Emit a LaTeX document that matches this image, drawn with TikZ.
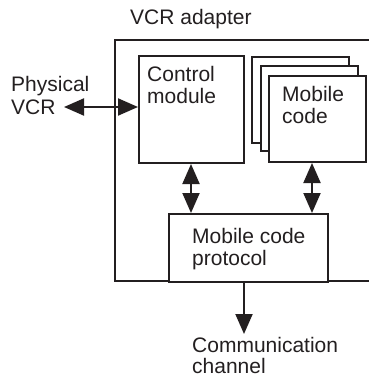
\documentclass[tikz,border=0pt]{standalone}
\usepackage{fontspec}
\setmainfont{Liberation Sans}
\usetikzlibrary{arrows.meta}
\definecolor{ink}{HTML}{231F20}
\begin{document}
\begin{tikzpicture}[x=1pt,y=-1pt,
  box/.style={draw=ink, line width=2pt, fill=white, inner sep=0pt, anchor=north west},
  lbl/.style={anchor=base west, inner sep=0pt, font=\fontsize{21}{23}\selectfont, text=ink},
  conn/.style={draw=ink, line width=2pt},
  dbl/.style={conn, {Triangle[length=20pt,width=17pt]}-{Triangle[length=20pt,width=17pt]}},
  sgl/.style={conn, -{Triangle[length=20pt,width=17pt]}}]
\useasboundingbox (0,0) rectangle (368,377);
% outer adapter frame (open to the right)
\coordinate (o1) at (369,40);
\coordinate (o2) at (115,40);
\coordinate (o3) at (115,281);
\coordinate (o4) at (369,281);
\draw[conn, line join=miter] (o1) -- (o2) -- (o3) -- (o4);
\node[lbl] (title) at (130,25) {VCR adapter};
% control module
\node[box, minimum width=105pt, minimum height=107pt] (ctrl) at (138,55) {};
\node[lbl] (ctrlA) at (147,82) {Control};
\node[lbl] (ctrlB) at (147,104) {module};
% mobile code stack
\node[box, minimum width=97pt, minimum height=86pt] (mback) at (251,56) {};
\node[box, minimum width=97pt, minimum height=85pt] (mmid) at (260,65) {};
\node[box, minimum width=97pt, minimum height=86pt] (mfront) at (268,75) {};
\node[lbl] (mobA) at (282,102) {Mobile};
\node[lbl] (mobB) at (282,124) {code};
% protocol
\node[box, minimum width=159pt, minimum height=68pt] (proto) at (168,213) {};
\node[lbl] (protA) at (192,243) {Mobile code};
\node[lbl] (protB) at (192,265) {protocol};
% external labels
\node[lbl] (physA) at (11,92) {Physical};
\node[lbl] (physB) at (11,114) {VCR};
\node[lbl] (commA) at (192,352) {Communication};
\node[lbl] (commB) at (192,373) {channel};
% connectors
\coordinate (vcrtip) at (64,107);
\draw[dbl] (vcrtip) -- (ctrl.west |- vcrtip);
\coordinate (cx) at (191,0);
\draw[dbl] (ctrl.south -| cx) -- (proto.north -| cx);
\coordinate (mx) at (312,0);
\draw[dbl] (mfront.south -| mx) -- (proto.north -| mx);
\coordinate (commtip) at (244,334);
\draw[sgl] (proto.south -| commtip) -- (commtip);
\end{tikzpicture}
\end{document}
